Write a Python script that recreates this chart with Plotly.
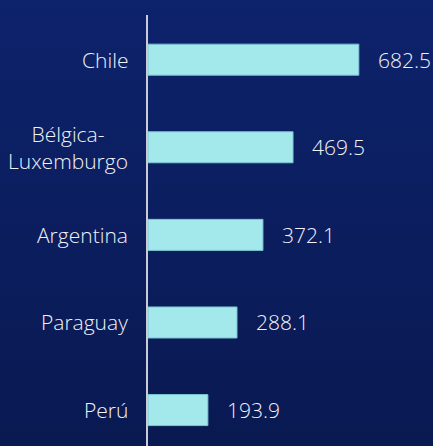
import base64
import plotly.graph_objects as go

categories = ["Chile", "Bélgica-<br>Luxemburgo", "Argentina", "Paraguay", "Perú"]
values = [682.5, 469.5, 372.1, 288.1, 193.9]
value_labels = ["682.5", "469.5", "372.1", "288.1", "193.9"]

font_family = "'Open Sans', Lato, sans-serif"
text_color = "#f0f2f7"
fsize = 21

svg = ('<svg xmlns="http://www.w3.org/2000/svg" width="100" height="100" preserveAspectRatio="none">'
       '<defs><linearGradient id="g" x1="0" y1="0" x2="0" y2="1">'
       '<stop offset="0" stop-color="#0d236d"/><stop offset="1" stop-color="#09184f"/>'
       '</linearGradient></defs><rect width="100" height="100" fill="url(#g)"/></svg>')
bg_uri = "data:image/svg+xml;base64," + base64.b64encode(svg.encode()).decode()

fig = go.Figure()
fig.add_trace(go.Bar(
    x=values,
    y=categories,
    orientation="h",
    marker=dict(color="#a3e9ec", line=dict(color="#7cc6d2", width=1)),
    hoverinfo="skip",
))

for c, v, lab in zip(categories, values, value_labels):
    fig.add_annotation(x=v, y=c, xref="x", yref="y", text=lab, showarrow=False,
                       xanchor="left", yanchor="middle", xshift=17,
                       font=dict(family=font_family, size=fsize, color=text_color, weight=300))
    fig.add_annotation(x=0, y=c, xref="x", yref="y", text=c, showarrow=False,
                       xanchor="right", yanchor="middle", xshift=-18, align="center",
                       font=dict(family=font_family, size=fsize, color=text_color, weight=300))

fig.add_layout_image(dict(source=bg_uri, xref="paper", yref="paper", x=-1, y=1.1,
                          sizex=3, sizey=1.2, sizing="stretch", layer="below",
                          xanchor="left", yanchor="top"))

fig.update_layout(
    width=433, height=446,
    margin=dict(l=148, r=7, t=15, b=0),
    paper_bgcolor="#0b1e5e",
    plot_bgcolor="rgba(0,0,0,0)",
    showlegend=False,
    bargap=0.646,
    xaxis=dict(range=[0, 900], showgrid=False, zeroline=False, showticklabels=False,
               showline=False, fixedrange=True),
    yaxis=dict(categoryorder="array", categoryarray=categories,
               range=[4.41, -0.51], showgrid=False, zeroline=False,
               showticklabels=False, showline=True, linecolor="#c9ccd8", linewidth=1.5,
               fixedrange=True),
)

fig.write_html("out.html", config={"displayModeBar": False},
               post_script="document.body.style.margin='0';document.body.style.background='#0b1e5e';")
